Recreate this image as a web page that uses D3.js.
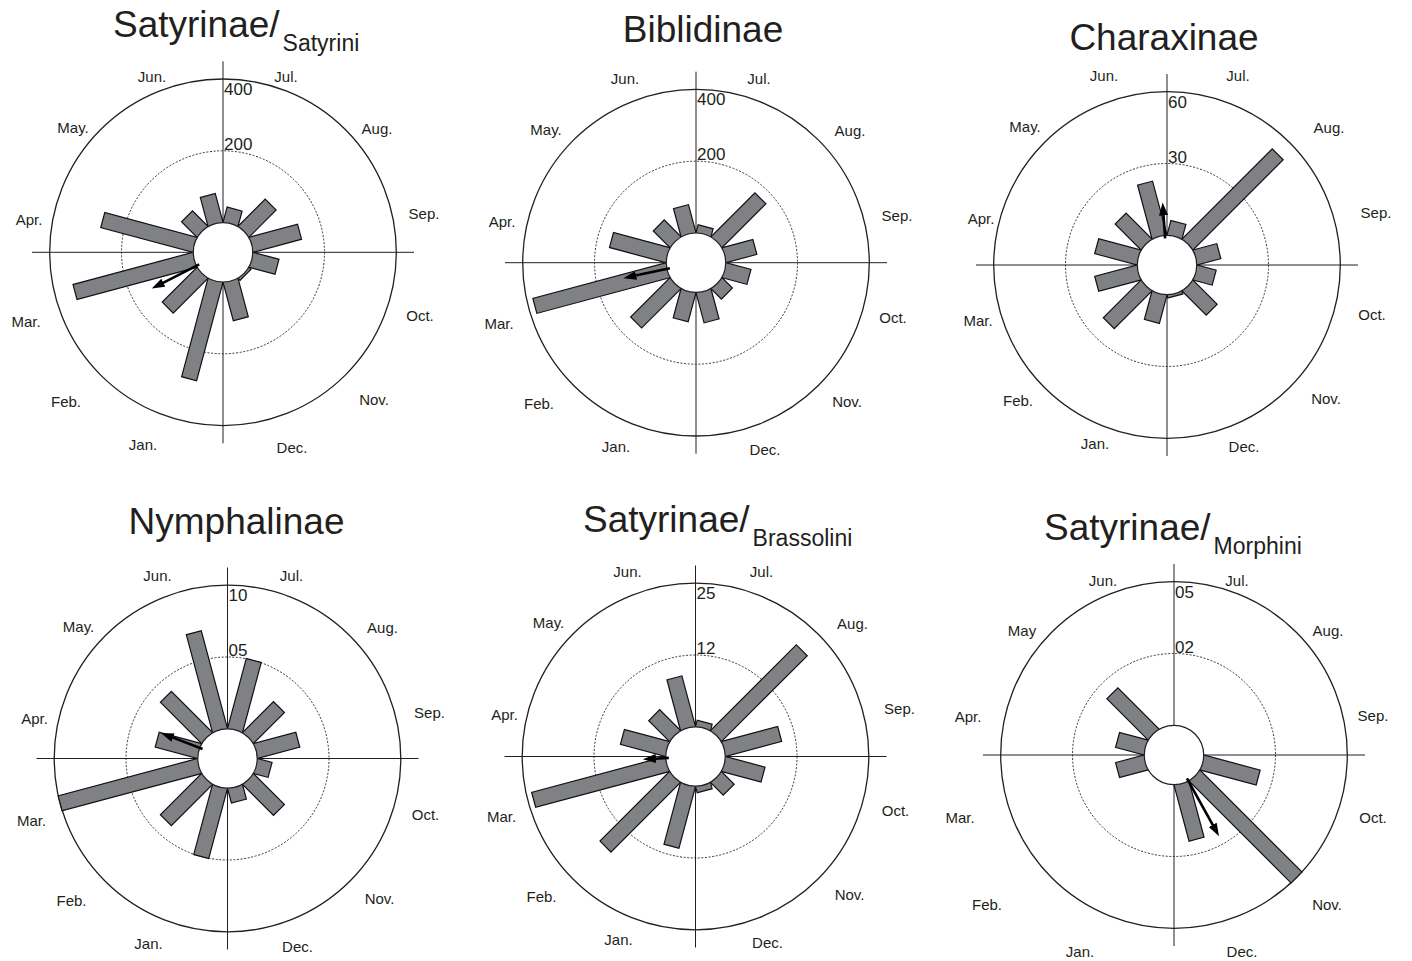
<!doctype html>
<html lang="en">
<head>
  <meta charset="utf-8">
  <title>Monthly rose diagrams</title>
  <script src="https://d3js.org/d3.v7.min.js"></script>
  <style>
    body { margin: 0; background: #fff; }
    text { font-family: 'Liberation Sans', Arial, sans-serif; fill: #231f20; }
  </style>
</head>
<body>
<div id="chart"></div>
<script>
  // months, in the order of the data arrays (Jan. sits at the bottom left)
  var monthKeys = ['Jan','Feb','Mar','Apr','May','Jun','Jul','Aug','Sep','Oct','Nov','Dec'];
  var monthLabels = ['Jan.','Feb.','Mar.','Apr.','May.','Jun.','Jul.','Aug.','Sep.','Oct.','Nov.','Dec.'];
  var monthLabelsMorphini = ['Jan.','Feb.','Mar.','Apr.','May','Jun.','Jul.','Aug.','Sep.','Oct.','Nov.','Dec.'];

  // counts per month
  var satyrini    = [282, 135, 344, 264, 59, 81, 42, 105, 138, 73, 6, 109];
  var biblidinae  = [82, 153, 382, 161, 64, 79, 21, 171, 87, 70, 39, 85];
  var charaxinae  = [12, 22, 18, 18, 15, 23, 6, 53, 10, 8, 14, 1];
  var nymphalinae = [5, 4, 10, 3, 4, 7, 5, 3, 3, 1, 3, 1];
  var brassolini  = [11, 17, 24, 8, 5, 9, 1, 21, 10, 7, 3, 1];
  var morphini    = [0, 0, 1, 1, 2, 0, 0, 0, 0, 2, 5, 2];

  var titles    = ['Satyrinae/', 'Biblidinae', 'Charaxinae', 'Nymphalinae', 'Satyrinae/', 'Satyrinae/'];
  var subtitles = ['Satyrini', '', '', '', 'Brassolini', 'Morphini'];
  var scaleMax  = [400, 400, 60, 10, 25, 5];
  var tickLabels = [['400','200'], ['400','200'], ['60','30'], ['10','05'], ['25','12'], ['05','02']];

  // mean vector: direction (degrees clockwise from top) and length (0-1)
  var meanAngle  = [243, 258, 356, 291, 267, 151];
  var meanLength = [0.35, 0.31, 0.23, 0.29, 0.16, 0.44];

  var series = [satyrini, biblidinae, charaxinae, nymphalinae, brassolini, morphini];

  var width = 1412, height = 961;
  var outerR = 173.3, innerR = 29.7, axisLen = 191, barW = 15.5;

  // layout of each panel
  var centers = [[223, 252.3], [696, 262.7], [1167, 265], [227.5, 758.5], [695.5, 756.5], [1174, 755]];
  var titlePos = [[113, 37, 'start'], [703, 42, 'middle'], [1164, 50, 'middle'],
                  [236.5, 534, 'middle'], [583, 532, 'start'], [1044, 540, 'start']];
  var labelShift = [[0, 0], [0, -8], [8, -13], [1, -7], [3, -9], [0, 0]];
  var labelPos = [[-80,192],[-157,149],[-197,69],[-194,-33],[-150,-125],[-71,-176],
                  [63,-176],[154,-124],[201,-39],[197,63],[151,147],[69,195]];
  var labelPosWide = [[-94,197],[-187,150],[-214,63],[-206,-38],[-152,-124],[-71,-174],
                      [63,-174],[154,-124],[199,-39],[199,63],[153,150],[68,197]];

  var ink = '#231f20';

  var svg = d3.select('#chart').append('svg')
      .attr('width', width)
      .attr('height', height);

  svg.append('defs').append('marker')
      .attr('id', 'head')
      .attr('markerUnits', 'userSpaceOnUse')
      .attr('markerWidth', 14).attr('markerHeight', 10)
      .attr('refX', 2).attr('refY', 4.5)
      .attr('orient', 'auto')
    .append('path')
      .attr('d', 'M0,0 L13,4.5 L0,9 Z')
      .attr('fill', '#000');

  // compass angle (deg) + radius -> x,y
  function px(deg, r) { return r * Math.sin(deg * Math.PI / 180); }
  function py(deg, r) { return -r * Math.cos(deg * Math.PI / 180); }

  var angle = d3.scalePoint().domain(monthKeys).range([195, 525]);

  series.forEach(function(values, i) {
    var g = svg.append('g')
        .attr('transform', 'translate(' + centers[i][0] + ',' + centers[i][1] + ')');

    var r = d3.scaleLinear().domain([0, scaleMax[i]]).range([innerR, outerR]);
    var vecR = d3.scaleLinear().domain([0, 1]).range([innerR, outerR]);

    // cross hairs
    g.append('line').attr('x1', -axisLen).attr('x2', axisLen).attr('y1', 0).attr('y2', 0)
        .attr('stroke', ink).attr('stroke-width', 1);
    g.append('line').attr('y1', -axisLen).attr('y2', axisLen).attr('x1', 0).attr('x2', 0)
        .attr('stroke', ink).attr('stroke-width', 1);

    // rings
    g.append('circle').attr('r', r(scaleMax[i]))
        .attr('fill', 'none').attr('stroke', ink).attr('stroke-width', 1.3);
    g.append('circle').attr('r', r(scaleMax[i] / 2))
        .attr('fill', 'none').attr('stroke', ink).attr('stroke-width', 0.9)
        .attr('stroke-dasharray', '2,1.6');

    // bars
    var data = values.map(function(v, k) { return {key: monthKeys[k], value: v}; })
        .filter(function(d) { return d.value > 0; });

    g.selectAll('.bar')
        .data(data)
      .enter().append('rect')
        .attr('class', 'bar')
        .attr('transform', function(d) { return 'rotate(' + angle(d.key) + ')'; })
        .attr('x', -barW / 2)
        .attr('y', function(d) { return -r(d.value); })
        .attr('width', barW)
        .attr('height', function(d) { return r(d.value); })
        .attr('fill', '#808185')
        .attr('stroke', '#111')
        .attr('stroke-width', 1.2);

    // hole in the middle
    g.append('circle').attr('r', innerR)
        .attr('fill', '#fff').attr('stroke', ink).attr('stroke-width', 1.2);

    // mean vector
    var a = meanAngle[i], tip = vecR(meanLength[i]);
    g.append('line')
        .attr('x1', px(a, innerR - 3)).attr('y1', py(a, innerR - 3))
        .attr('x2', px(a, tip - 11)).attr('y2', py(a, tip - 11))
        .attr('stroke', '#000').attr('stroke-width', 2.6)
        .attr('marker-end', 'url(#head)');

    // radial tick labels
    g.append('text')
        .attr('x', 1).attr('y', -r(scaleMax[i]) + 16)
        .style('font-size', '17px')
        .text(tickLabels[i][0]);
    g.append('text')
        .attr('x', 1).attr('y', -r(scaleMax[i] / 2) - 1)
        .style('font-size', '17px')
        .text(tickLabels[i][1]);

    // month labels
    var pos = i === 5 ? labelPosWide : labelPos;
    var names = i === 5 ? monthLabelsMorphini : monthLabels;
    g.selectAll('.month')
        .data(names)
      .enter().append('text')
        .attr('class', 'month')
        .attr('x', function(d, k) { return pos[k][0] + labelShift[i][0]; })
        .attr('y', function(d, k) { return pos[k][1] + labelShift[i][1]; })
        .attr('dy', '0.36em')
        .attr('text-anchor', 'middle')
        .style('font-size', '15px')
        .text(function(d) { return d; });

    // title
    var t = svg.append('text')
        .attr('x', titlePos[i][0]).attr('y', titlePos[i][1])
        .attr('text-anchor', titlePos[i][2])
        .style('font-size', '37px')
        .text(titles[i]);
    if (subtitles[i]) {
      t.append('tspan')
          .attr('dx', 3)
          .attr('dy', 14)
          .style('font-size', '23px')
          .text(subtitles[i]);
    }
  });
</script>
</body>
</html>
